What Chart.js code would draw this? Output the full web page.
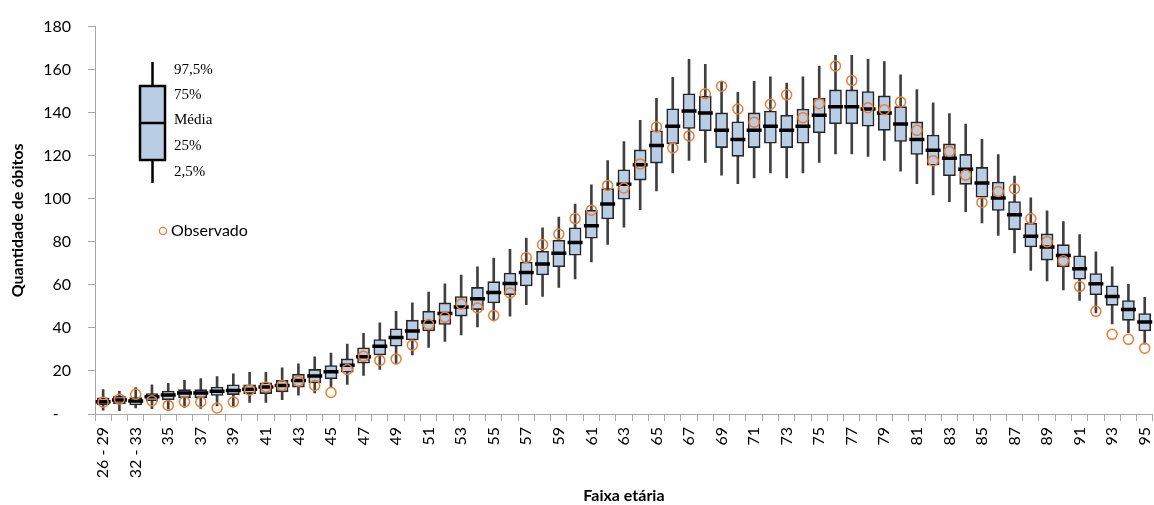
<!DOCTYPE html>
<html>
<head>
<meta charset="utf-8">
<script src="https://cdn.jsdelivr.net/npm/chart.js@4.4.0/dist/chart.umd.min.js"></script>
<style>
  html, body { margin: 0; padding: 0; background: #fff; overflow: hidden; width: 1154px; height: 505px; }
  canvas { display: block; }
</style>
</head>
<body>
<canvas id="boxChart" width="1170" height="505"></canvas>
<script>
// Age groups (x categories)
const ageLabels = ['26 - 29', '30 - 31', '32 - 33', '34', '35', '36', '37', '38', '39', '40',
  '41', '42', '43', '44', '45', '46', '47', '48', '49', '50',
  '51', '52', '53', '54', '55', '56', '57', '58', '59', '60',
  '61', '62', '63', '64', '65', '66', '67', '68', '69', '70',
  '71', '72', '73', '74', '75', '76', '77', '78', '79', '80',
  '81', '82', '83', '84', '85', '86', '87', '88', '89', '90',
  '91', '92', '93', '94', '95'];

// Percentiles of simulated deaths per age group
const p025 = [1.8, 1.6, 2.8, 2.5, 2.2, 3.1, 2.6, 3.7, 3.7, 5.4,
  5.4, 6.7, 8.7, 9.8, 12.5, 13.8, 17.9, 20.7, 23.3, 27.5,
  30.9, 33.7, 36.7, 40.5, 43.2, 45.5, 50.8, 54.6, 58.8, 62.8,
  70.7, 78.8, 86.8, 94.9, 103.6, 112.0, 117.8, 116.9, 111.0, 107.0,
  109.7, 112.0, 109.7, 112.0, 116.9, 120.9, 120.9, 119.7, 117.8, 112.8,
  107.0, 101.8, 98.7, 94.0, 88.8, 83.0, 74.8, 66.7, 61.8, 57.7,
  52.8, 47.0, 41.9, 37.8, 32.5];
const p25 = [4.3, 4.7, 4.2, 6.1, 6.6, 7.5, 7.5, 8.6, 9.0, 9.5,
  9.5, 10.3, 12.5, 14.4, 16.4, 19.4, 23.6, 27.4, 31.5, 34.4,
  38.6, 41.6, 45.5, 48.5, 51.6, 55.4, 59.5, 64.6, 68.4, 73.8,
  81.7, 90.6, 99.8, 108.7, 116.6, 125.6, 132.7, 131.6, 123.8, 119.7,
  123.8, 125.8, 123.8, 125.8, 130.7, 134.8, 134.8, 133.7, 131.8, 126.6,
  120.6, 115.6, 110.7, 106.7, 100.7, 94.6, 85.7, 77.6, 71.5, 68.4,
  62.6, 55.4, 50.5, 43.5, 38.6];
const media = [5.7, 6.5, 6.0, 8.0, 8.8, 9.8, 9.8, 10.6, 10.9, 11.5,
  12.5, 13.3, 15.6, 17.6, 19.6, 22.6, 26.6, 31.5, 35.5, 38.6,
  42.7, 46.7, 49.7, 53.6, 56.5, 60.6, 65.7, 69.7, 74.7, 79.7,
  87.5, 97.6, 106.8, 115.8, 124.7, 133.7, 140.8, 139.9, 131.8, 127.6,
  131.8, 133.7, 131.8, 133.7, 138.8, 142.8, 142.8, 141.7, 139.9, 134.8,
  127.6, 122.6, 118.8, 113.7, 107.3, 100.4, 92.6, 82.6, 77.6, 73.6,
  67.5, 60.5, 54.6, 48.5, 42.8];
const p75 = [7.5, 8.2, 7.6, 9.5, 10.7, 11.3, 11.3, 12.5, 13.6, 13.6,
  14.5, 15.6, 18.5, 20.7, 22.5, 25.6, 30.8, 34.6, 39.6, 43.6,
  47.8, 51.6, 54.6, 58.8, 61.5, 65.5, 70.6, 75.6, 80.7, 86.5,
  94.7, 104.7, 113.5, 122.7, 131.6, 141.8, 148.8, 147.7, 139.9, 135.8,
  139.9, 140.8, 138.8, 141.7, 146.8, 150.6, 150.6, 149.8, 147.8, 142.8,
  135.7, 129.6, 125.5, 120.6, 114.6, 107.8, 98.7, 88.6, 83.7, 78.7,
  73.5, 65.3, 59.6, 52.7, 46.7];
const p975 = [11.4, 10.5, 12.3, 13.5, 14.3, 15.6, 16.4, 17.4, 18.7, 19.4,
  19.4, 21.4, 23.3, 26.6, 28.3, 32.5, 37.5, 42.4, 47.7, 51.6,
  56.6, 60.5, 64.6, 68.4, 72.5, 76.5, 81.7, 86.5, 91.5, 97.5,
  106.5, 117.7, 126.6, 136.5, 146.7, 156.4, 164.8, 162.5, 154.6, 149.5,
  154.6, 156.7, 153.7, 156.7, 161.7, 166.7, 166.7, 164.8, 163.7, 157.6,
  150.7, 144.6, 139.6, 134.7, 127.6, 120.5, 110.5, 100.4, 94.4, 89.4,
  83.4, 75.3, 68.4, 60.3, 54.2];

// Observed deaths
const observado = [5.5, 6.9, 9.2, 6.1, 4.0, 5.7, 5.6, 2.8, 5.6, 11.2,
  12.5, 13.3, 15.2, 13.3, 10.0, 20.7, 26.8, 24.9, 25.6, 32.0,
  41.6, 45.0, 51.1, 49.3, 45.8, 56.2, 72.7, 78.7, 83.6, 90.8,
  94.7, 106.2, 105.0, 116.2, 133.3, 123.6, 129.2, 148.8, 152.3, 141.7,
  135.6, 143.9, 148.3, 137.7, 144.2, 161.7, 154.9, 142.3, 141.4, 145.0,
  131.8, 117.7, 122.0, 111.0, 98.3, 103.4, 104.7, 90.8, 80.0, 71.2,
  59.2, 47.7, 37.0, 34.7, 30.6];

const BOX_FILL = '#b9cde5';
const ORANGE   = '#ed7d31';
const AXIS     = '#a6a6a6';

/* ── In-plot legend (box glyph + labels) ─────────── */
const boxLegend = {
  id: 'boxLegend',
  afterDraw(chart) {
    const ctx = chart.ctx;
    const cx = 152.5, x0 = 140, w = 25;
    ctx.save();
    ctx.strokeStyle = '#000';
    ctx.lineWidth = 2.5;
    ctx.beginPath();
    ctx.moveTo(cx, 62);  ctx.lineTo(cx, 86);
    ctx.moveTo(cx, 160); ctx.lineTo(cx, 183);
    ctx.stroke();
    ctx.fillStyle = BOX_FILL;
    ctx.fillRect(x0, 86, w, 74);
    ctx.strokeRect(x0, 86, w, 74);
    ctx.beginPath();
    ctx.moveTo(x0, 123); ctx.lineTo(x0 + w, 123);
    ctx.stroke();

    ctx.fillStyle = '#000';
    ctx.font = '15px "Liberation Serif", serif';
    ctx.textBaseline = 'middle';
    ctx.textAlign = 'left';
    [['97,5%', 70], ['75%', 95], ['Média', 120], ['25%', 146], ['2,5%', 172]]
      .forEach(([t, y]) => ctx.fillText(t, 174, y));

    ctx.beginPath();
    ctx.arc(163, 231, 3.6, 0, Math.PI * 2);
    ctx.strokeStyle = ORANGE;
    ctx.lineWidth = 1.3;
    ctx.stroke();
    ctx.font = '16px Lato, sans-serif';
    ctx.fillText('Observado', 171, 231);
    ctx.restore();
  },
};

const tickFont  = { family: 'Lato', size: 16 };
const titleFont = { family: 'Lato', size: 16, weight: 'bold' };

new Chart(document.getElementById('boxChart'), {
  type: 'bar',
  plugins: [boxLegend],
  data: {
    labels: ageLabels,
    datasets: [
      {
        type: 'line',
        label: 'Observado',
        data: observado,
        showLine: false,
        pointStyle: 'circle',
        pointRadius: 5,
        pointBorderWidth: 1.5,
        pointBorderColor: ORANGE,
        pointBackgroundColor: 'rgba(0,0,0,0)',
        order: 0,
      },
      {
        type: 'line',
        label: 'Média',
        data: media,
        showLine: false,
        pointStyle: 'line',
        pointRadius: 7.5,
        pointBorderWidth: 3.5,
        pointBorderColor: '#000',
        order: 1,
      },
      {
        label: '25% - 75%',
        data: p25.map((v, i) => [v, p75[i]]),
        backgroundColor: BOX_FILL,
        borderColor: '#262626',
        borderWidth: 1.6,
        borderSkipped: false,
        barThickness: 12,
        grouped: false,
        order: 2,
      },
      {
        label: '2,5% - 97,5%',
        data: p025.map((v, i) => [v, p975[i]]),
        backgroundColor: '#404040',
        borderWidth: 0,
        barThickness: 2,
        grouped: false,
        order: 3,
      },
    ],
  },
  options: {
    responsive: false,
    animation: false,
    devicePixelRatio: 1,
    layout: { padding: { top: 22, right: 7, left: 0, bottom: 0 } },
    plugins: {
      legend:  { display: false },
      tooltip: { enabled: false },
    },
    scales: {
      x: {
        offset: true,
        grid:   { offset: true, drawOnChartArea: false, tickLength: 7, color: AXIS },
        border: { color: AXIS },
        ticks: {
          autoSkip: false, minRotation: 90, maxRotation: 90, padding: 6,
          color: '#000', font: tickFont,
          callback: (v, i) => (i % 2 === 0 ? ageLabels[i] : ''),
        },
        title: { display: true, text: 'Faixa etária', color: '#000', font: titleFont, padding: { top: 0, bottom: 0 } },
        afterFit: (s) => { s.height = 91; },
      },
      y: {
        min: 0, max: 180,
        grid:   { drawOnChartArea: false, tickLength: 7, color: AXIS },
        border: { color: AXIS },
        ticks: {
          stepSize: 20, padding: 17, color: '#000', font: tickFont,
          callback: (v) => (v === 0 ? '-   ' : v),
        },
        title: { display: true, text: 'Quantidade de óbitos', color: '#000', font: titleFont, padding: { top: 8, bottom: 0 } },
        afterFit: (s) => { s.width = 95; },
      },
    },
  },
});
</script>
</body>
</html>
